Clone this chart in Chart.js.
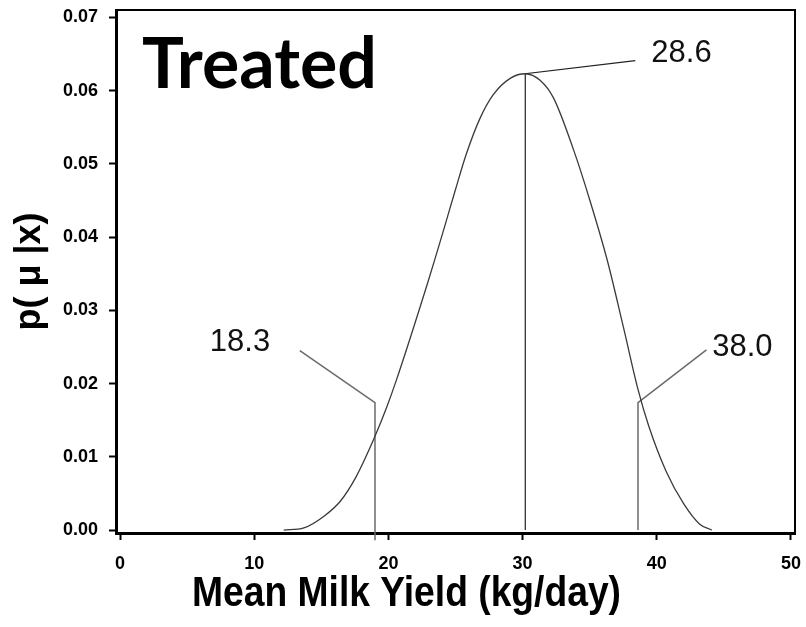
<!DOCTYPE html>
<html><head><meta charset="utf-8">
<script src="https://cdn.jsdelivr.net/npm/chart.js@4.4.1/dist/chart.umd.min.js"></script>
<style>html,body{margin:0;padding:0;background:#fff}#wrap{width:806px;height:627px}</style>
</head><body><div id="wrap"><canvas id="c" width="806" height="627"></canvas></div>
<script>
// ---- data ----
const xTicks = [0, 10, 20, 30, 40, 50];
const yTicks = [0, 0.01, 0.02, 0.03, 0.04, 0.05, 0.06, 0.07];

const curveX = [12.2, 13.7, 15.2, 16.4, 17.6, 19.0, 19.9, 20.6, 22.9, 23.5, 24.2, 25.0, 25.8, 26.8, 27.8, 29.1, 30.2,
                31.3, 32.3, 33.8, 35.0, 36.3, 37.5, 38.6, 39.4, 40.7, 42.0, 43.2, 44.1];
const curveY = [0.0000, 0.0003, 0.0019, 0.0039, 0.0073, 0.0128, 0.0169, 0.0205, 0.0336, 0.0372, 0.0415, 0.0465, 0.0513, 0.0561, 0.0594, 0.0617, 0.0623,
                0.0614, 0.0590, 0.0519, 0.0451, 0.0369, 0.0278, 0.0192, 0.0142, 0.0080, 0.0036, 0.0008, 0.0000];

// marker lines (leader end, elbow, foot)
const lowerX = [13.4, 19.0, 19.0];
const lowerY = [0.0245, 0.0174, -0.0014];
const peakX  = [38.4, 30.2, 30.2];
const peakY  = [0.0641, 0.0623, 0.0000];
const upperX = [43.7, 38.6, 38.6];
const upperY = [0.0246, 0.0174, 0.0000];

// marker labels
const markText = ['18.3', '28.6', '38.0'];
const markX    = [8.94, 41.84, 46.38];
const markY    = [0.02565, 0.0651, 0.0249];

const panelTitle = 'Treated';
const xTitle = 'Mean Milk Yield (kg/day)';
const yTitle = 'p( \u03BC |x)';

// ---- chart ----
const pts = (xs, ys) => xs.map((v, i) => ({x: v, y: ys[i]}));
const tickFont = {family: "'Liberation Sans', Arial, sans-serif", size: 18, weight: 'bold'};

const annotPlugin = {
  id: 'annot',
  afterDatasetsDraw(chart) {
    const {ctx, scales: {x, y}, chartArea} = chart;
    // top and right frame lines
    ctx.save();
    ctx.strokeStyle = '#000';
    ctx.lineWidth = 2;
    ctx.beginPath();
    ctx.moveTo(chartArea.left, chartArea.top);
    ctx.lineTo(chartArea.right, chartArea.top);
    ctx.lineTo(chartArea.right, chartArea.bottom);
    ctx.stroke();
    ctx.restore();

    ctx.save();
    ctx.fillStyle = '#111';
    ctx.font = "31px 'Liberation Sans', Arial, sans-serif";
    ctx.textAlign = 'center';
    ctx.textBaseline = 'middle';
    markText.forEach((t, i) => ctx.fillText(t, x.getPixelForValue(markX[i]), y.getPixelForValue(markY[i])));
    // panel title
    ctx.fillStyle = '#000';
    ctx.textAlign = 'left';
    ctx.textBaseline = 'alphabetic';
    let size = 70;
    ctx.font = `bold ${size}px Lato, 'Open Sans', sans-serif`;
    const w = ctx.measureText(panelTitle).width;
    size = size * 235 / w;
    ctx.font = `bold ${size}px Lato, 'Open Sans', sans-serif`;
    ctx.fillText(panelTitle, chartArea.left + 26, chartArea.top + 78);
    ctx.restore();

    // x-axis title (condensed bold, as in the reference)
    ctx.save();
    ctx.font = "bold 42px 'Liberation Sans', Arial, sans-serif";
    ctx.fillStyle = '#000';
    ctx.textAlign = 'center';
    ctx.textBaseline = 'middle';
    const tw = ctx.measureText(xTitle).width;
    ctx.translate(406.5, chartArea.bottom + 61);
    ctx.scale(429 / tw, 1);
    ctx.fillText(xTitle, 0, 0);
    ctx.restore();
  }
};

new Chart(document.getElementById('c'), {
  type: 'line',
  data: {
    datasets: [
      {label: 'Posterior', data: pts(curveX, curveY), borderColor: '#3a3a3a', borderWidth: 1.3,
       pointRadius: 0, cubicInterpolationMode: 'monotone', fill: false},
      {label: 'Lower', data: pts(lowerX, lowerY), borderColor: '#6a6a6a', borderWidth: 1.5,
       pointRadius: 0, tension: 0, clip: false},
      {label: 'Peak', data: pts(peakX, peakY), borderColor: '#222', borderWidth: 1.2,
       pointRadius: 0, tension: 0, clip: false},
      {label: 'Upper', data: pts(upperX, upperY), borderColor: '#6a6a6a', borderWidth: 1.5,
       pointRadius: 0, tension: 0, clip: false}
    ]
  },
  options: {
    responsive: false, animation: false, devicePixelRatio: 1,
    layout: {autoPadding: false, padding: {top: 10, right: 11, left: 0, bottom: 0}},
    plugins: {legend: {display: false}, tooltip: {enabled: false}, title: {display: false}},
    scales: {
      x: {
        type: 'linear', min: -0.3, max: 50.3,
        afterBuildTicks: s => { s.ticks = xTicks.map(v => ({value: v})); },
        afterFit: s => { s.height = 94; s.paddingLeft = 0; s.paddingRight = 0; },
        grid: {display: true, drawOnChartArea: false, drawTicks: true, tickLength: 7, tickColor: '#000', tickWidth: 2},
        border: {display: true, color: '#000', width: 3},
        ticks: {color: '#000', font: tickFont, padding: 13, maxRotation: 0, callback: v => String(v)}
      },
      y: {
        type: 'linear', min: -0.0004, max: 0.071,
        afterBuildTicks: s => { s.ticks = yTicks.map(v => ({value: v})); },
        afterFit: s => { s.width = 116; s.paddingTop = 0; s.paddingBottom = 0; },
        grid: {display: true, drawOnChartArea: false, drawTicks: true, tickLength: 7, tickColor: '#000', tickWidth: 2},
        border: {display: true, color: '#000', width: 3},
        ticks: {color: '#000', font: tickFont, padding: 11, callback: v => Number(v).toFixed(2)},
        title: {display: true, text: yTitle, color: '#000',
          font: {family: "'Liberation Sans', Arial, sans-serif", size: 36, weight: 'bold', lineHeight: 1.2},
          padding: {top: 8, bottom: 0}}
      }
    }
  },
  plugins: [annotPlugin]
});
</script></body></html>
